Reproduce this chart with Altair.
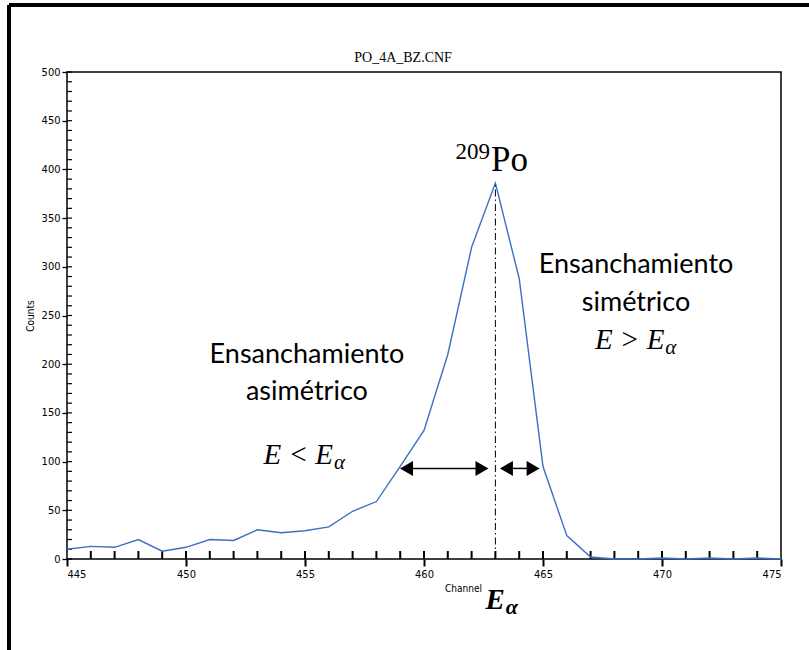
import altair as alt
import pandas as pd

# ---- data ----
channels = list(range(445, 476))
counts = [10, 13, 12, 20, 8, 12, 20, 19, 30, 27, 29, 33, 49, 59, 95, 132,
          210, 320, 386, 288, 95, 24, 2, 0, 0, 1, 0, 1, 0, 1, 0]

peak_channel = 463
peak_counts = 386

arrow_start = [458.9, 463.1]
arrow_end = [462.8, 464.95]
arrow_level = [93, 93]

y_major = list(range(0, 501, 50))
y_minor = list(range(0, 501, 10))
x_major = list(range(445, 476, 5))
x_minor = list(range(446, 475, 1))

W, H = 714, 487
PX_PER_CH = W / 30.0
PX_PER_COUNT = H / 500.0
HEAD_R = 7.5
HEAD_SIZE = (2 * HEAD_R) ** 2
HEAD_OFF = 1.155 * HEAD_R / PX_PER_CH
TICK_IN = 5

spec = pd.DataFrame({"channel": channels, "counts": counts})

xs = alt.Scale(domain=[445, 475], nice=False, zero=False)
ys = alt.Scale(domain=[0, 500], nice=False)

NARROW = "Liberation Sans Narrow, DejaVu Sans Condensed, sans-serif"


def X(field):
    return alt.X(field, scale=xs, axis=None)


def Y(field):
    return alt.Y(field, scale=ys, axis=None)


line = alt.Chart(spec).mark_line(color="#3a70c4", strokeWidth=1.4).encode(
    x=alt.X("channel:Q", scale=xs, axis=alt.Axis(
        orient="bottom", values=x_major, tickSize=7, tickColor="black",
        tickWidth=2, domain=False, grid=False, labelFont=NARROW,
        labelFontSize=11, labelColor="black", labelPadding=2, title="Channel",
        titleFont=NARROW, titleFontSize=10, titleFontWeight="normal",
        titleColor="black", titleX=396, titlePadding=4)),
    y=alt.Y("counts:Q", scale=ys, axis=alt.Axis(
        orient="left", values=y_major, tickSize=5, tickColor="black",
        tickWidth=1.3, domain=False, grid=False, labelFont=NARROW,
        labelFontSize=11, labelColor="black", labelPadding=2, title="Counts",
        titleFont=NARROW, titleFontSize=10, titleFontWeight="normal",
        titleColor="black", titlePadding=6)),
)

# inward minor ticks drawn from the tick-value arrays through the scales
ytk = pd.DataFrame({"v": y_minor})
ytk["x0"] = 445
ytk["x1"] = 445 + TICK_IN / PX_PER_CH
xtk = pd.DataFrame({"c": x_minor})
xtk["b0"] = 0
xtk["b1"] = (TICK_IN + 3) / PX_PER_COUNT
ytick_l = alt.Chart(ytk).mark_rule(color="black", strokeWidth=1.2).encode(
    x=X("x0:Q"), x2="x1:Q", y=Y("v:Q"))
xtick_l = alt.Chart(xtk).mark_rule(color="black", strokeWidth=2).encode(
    x=X("c:Q"), y=Y("b0:Q"), y2=alt.Y2("b1:Q"))

peak_df = pd.DataFrame({"channel": [peak_channel], "y0": [0], "y1": [peak_counts]})
peak_rule = alt.Chart(peak_df).mark_rule(
    color="black", strokeWidth=1, strokeDash=[7, 3, 1.5, 3]).encode(
    x=X("channel:Q"), y=Y("y0:Q"), y2="y1:Q")

arr = pd.DataFrame({"x0": arrow_start, "x1": arrow_end, "y": arrow_level})
arr["hl"] = arr["x0"] + HEAD_OFF
arr["hr"] = arr["x1"] - HEAD_OFF
arrow_shaft = alt.Chart(arr).mark_rule(color="black", strokeWidth=1.5).encode(
    x=X("hl:Q"), x2="hr:Q", y=Y("y:Q"))
head_left = alt.Chart(arr).mark_point(
    shape="triangle-left", filled=True, color="black", opacity=1,
    size=HEAD_SIZE).encode(x=X("hl:Q"), y=Y("y:Q"))
head_right = alt.Chart(arr).mark_point(
    shape="triangle-right", filled=True, color="black", opacity=1,
    size=HEAD_SIZE).encode(x=X("hr:Q"), y=Y("y:Q"))

# ---- text annotations (data coordinates) ----
words = pd.DataFrame({
    "t": ["Ensanchamiento", "asimétrico", "Ensanchamiento", "simétrico"],
    "x": [455.08, 455.08, 468.91, 468.91],
    "y": [209.4, 171.5, 301.8, 262.9],
})
words_l = alt.Chart(words).mark_text(
    font="Lato, Open Sans, sans-serif", fontSize=27, color="black",
    baseline="middle", align="center").encode(
    x=X("x:Q"), y=Y("y:Q"), text="t:N")

math_main = pd.DataFrame({"t": ["E < E", "E > E"], "x": [456.18, 470.1],
                          "y": [106.8, 224.8]})
math_sub = pd.DataFrame({"t": ["α", "α"], "x": [456.22, 470.14],
                         "y": [99.0, 217.0]})
math_l = alt.Chart(math_main).mark_text(
    font="Liberation Serif", fontStyle="italic", fontSize=29, color="black",
    baseline="middle", align="right").encode(
    x=X("x:Q"), y=Y("y:Q"), text="t:N")
math_s = alt.Chart(math_sub).mark_text(
    font="Liberation Serif", fontStyle="italic", fontSize=21, color="black",
    baseline="middle", align="left").encode(
    x=X("x:Q"), y=Y("y:Q"), text="t:N")

ea_main = pd.DataFrame({"t": ["E"], "x": [463.40], "y": [-42.1]})
ea_sub = pd.DataFrame({"t": ["α"], "x": [463.44], "y": [-49.3]})
ea_l = alt.Chart(ea_main).mark_text(
    font="Liberation Serif", fontStyle="italic", fontWeight="bold",
    fontSize=29, color="black", baseline="middle", align="right").encode(
    x=X("x:Q"), y=Y("y:Q"), text="t:N")
ea_s = alt.Chart(ea_sub).mark_text(
    font="Liberation Serif", fontStyle="italic", fontWeight="bold",
    fontSize=22, color="black", baseline="middle", align="left").encode(
    x=X("x:Q"), y=Y("y:Q"), text="t:N")

iso_num = pd.DataFrame({"t": ["209"], "x": [462.77], "y": [417.9]})
iso_sym = pd.DataFrame({"t": ["Po"], "x": [462.82], "y": [409.7]})
iso_n = alt.Chart(iso_num).mark_text(
    font="Liberation Serif", fontSize=23, color="black",
    baseline="middle", align="right").encode(
    x=X("x:Q"), y=Y("y:Q"), text="t:N")
iso_s = alt.Chart(iso_sym).mark_text(
    font="Liberation Serif", fontSize=35, color="black",
    baseline="middle", align="left").encode(
    x=X("x:Q"), y=Y("y:Q"), text="t:N")

title_df = pd.DataFrame({"t": ["PO_4A_BZ.CNF"], "x": [459.12], "y": [514.4]})
title_l = alt.Chart(title_df).mark_text(
    font="Liberation Serif", fontSize=14, color="black",
    baseline="middle", align="center").encode(
    x=X("x:Q"), y=Y("y:Q"), text="t:N")

# outer frame of the figure (left and top edges)
frame_left = alt.Chart(spec).mark_rule(color="black", strokeWidth=3).encode(
    x=alt.value(-58), y=alt.value(-67), y2=alt.value(H + 91))
frame_top = alt.Chart(spec).mark_rule(color="black", strokeWidth=3).encode(
    y=alt.value(-67), x=alt.value(-58), x2=alt.value(W + 28))

chart = alt.layer(
    frame_left, frame_top, ytick_l, xtick_l, line, peak_rule, arrow_shaft,
    head_left, head_right, words_l, math_l, math_s, ea_l, ea_s, iso_n, iso_s,
    title_l,
).resolve_axis(x="independent", y="independent").properties(
    width=W, height=H,
    autosize=alt.AutoSizeParams(type="none"),
    padding={"left": 67, "top": 72, "right": 28, "bottom": 91},
    background="white",
).configure_view(stroke="black", strokeWidth=1.5)

chart.save("out.html", embed_options={"renderer": "svg", "actions": False})
